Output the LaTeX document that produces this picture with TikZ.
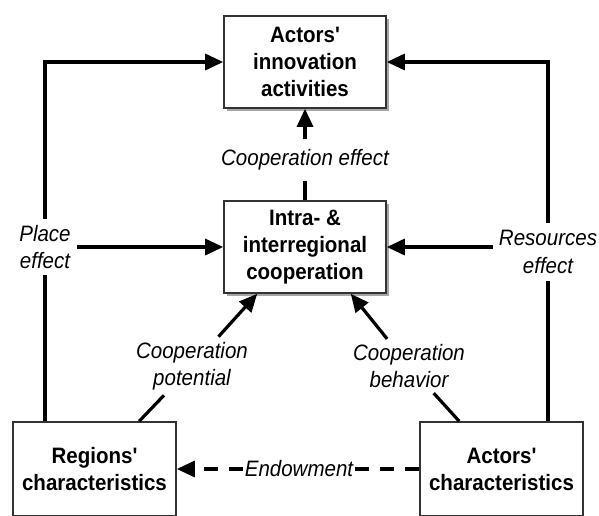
\documentclass[tikz,border=0pt]{standalone}
\usepackage{fontspec}
\setmainfont{Liberation Sans}[Ligatures=TeXOff, FakeStretch=0.92]
\usetikzlibrary{arrows.meta,shadows,calc}
\begin{document}
\begin{tikzpicture}[x=1pt,y=-1pt,
  box/.style={draw=black!80, line width=1.6pt, fill=white, align=center,
    font=\bfseries\fontsize{22.3}{27}\selectfont,
    minimum width=162pt, minimum height=92pt, inner sep=0pt},
  shbox/.style={box, drop shadow={shadow xshift=2.5pt, shadow yshift=-3pt, opacity=0.35, fill=black}},
  lab/.style={align=center, font=\itshape\fontsize{22.3}{27.5}\selectfont, inner xsep=6pt, inner ysep=7pt},
  conn/.style={line width=3.2pt, black},
  arr/.style={conn, -{Triangle[length=18pt,width=16pt]}},
  dsh/.style={dash pattern=on 14pt off 11pt}
]
\useasboundingbox (0,0) rectangle (599,515);
% boxes
\node[shbox] (top) at (305,62) {Actors'\\innovation\\activities};
\node[shbox] (mid) at (305,247) {Intra- \&\\interregional\\cooperation};
\node[box, minimum width=163pt, minimum height=94pt] (rl) at (94.5,469) {Regions'\\characteristics};
\node[box, minimum width=163pt, minimum height=94pt] (ra) at (501.5,469) {Actors'\\characteristics};
% labels
\node[lab, inner ysep=10pt] (ce) at (305,160) {Cooperation effect};
\node[lab, inner ysep=6pt] (pe) at (45,247) {Place\\effect};
\node[lab, inner ysep=7pt] (re) at (548,252) {Resources\\effect};
\node[lab, inner ysep=5pt] (cp) at (192,366) {Cooperation\\potential};
\node[lab, inner ysep=5pt] (cb) at (409,366) {Cooperation\\behavior};
\node[lab, inner xsep=2pt] (en) at (299,469) {Endowment};
% connectors
\draw[conn] (rl.north -| pe) -- (pe.south);
\draw[arr] (pe.north) |- (top.west);
\draw[arr] (pe.east |- mid.west) -- (mid.west);
\draw[conn] (ra.north -| re) -- (re.south);
\draw[arr] (re.north) |- (top.east);
\draw[arr] (re.west |- mid.east) -- (mid.east);
\draw[conn] (mid.north) -- (ce.south);
\draw[arr] (ce.north) -- (top.south);
\coordinate (cpA) at ($(rl.north west)+(127,0)$);
\coordinate (cpB) at ($(mid.south west)+(34,0)$);
\draw[conn] (cpA) -- (cp);
\draw[arr] (cp) -- (cpB);
\coordinate (cbA) at ($(ra.north west)+(40,0)$);
\coordinate (cbB) at ($(mid.south east)+(-36,0)$);
\draw[conn] (cbA) -- (cb);
\draw[arr] (cb) -- (cbB);
\draw[conn, dsh] (ra) -- (en);
\draw[arr, dsh] (en) -- (rl);
\end{tikzpicture}
\end{document}
